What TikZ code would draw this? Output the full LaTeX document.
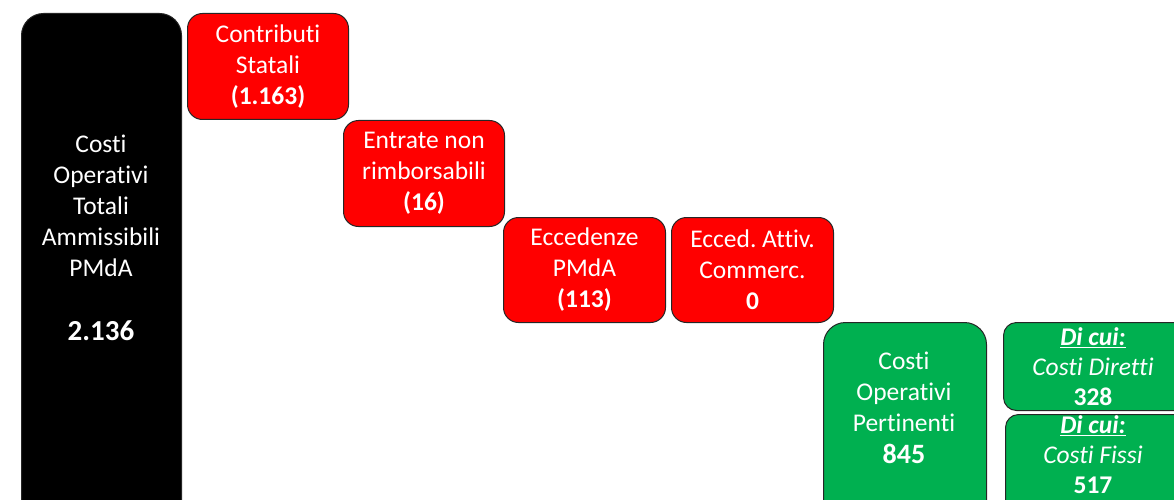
\documentclass[tikz,border=0pt]{standalone}
\usepackage{fontspec}
\setmainfont[RawFeature=-liga]{Carlito}
\frenchspacing
\definecolor{boxred}{HTML}{FF0000}
\definecolor{boxgreen}{HTML}{00B050}
\definecolor{edge}{HTML}{262626}
\tikzset{
  basebox/.style={draw=edge, line width=1pt, inner sep=0pt, anchor=north west},
  blackbox/.style={basebox, fill=black, rounded corners=22pt},
  redbox/.style={basebox, fill=boxred, rounded corners=15pt, text=white, align=center,
    font=\fontsize{25.5}{31}\selectfont},
  greenbox/.style={basebox, fill=boxgreen, rounded corners=#1},
  txt/.style={text=white, align=center, inner sep=0pt, font=\fontsize{25.5}{31}\selectfont},
}
\begin{document}
\begin{tikzpicture}[x=1pt,y=-1pt]
\useasboundingbox (0,0) rectangle (1174,500);
\clip (0,0) rectangle (1174,500);
% black column
\node[blackbox, minimum width=160pt, minimum height=530pt] (tot) at (21,13) {};
\node[txt] (totl) at (101,206) {Costi\\Operativi\\Totali\\Ammissibili\\PMdA};
\node[txt, font=\fontsize{29}{31}\selectfont\bfseries] (totv) at (101,331) {2.136};
% red boxes
\node[redbox, minimum width=161pt, minimum height=106pt] (cs) at (187,13)
  {Contributi\\Statali\\\textbf{(1.163)}};
\node[redbox, minimum width=161pt, minimum height=106pt] (enr) at (343,120)
  {Entrate non\\rimborsabili\\\textbf{(16)}};
\node[redbox, minimum width=162pt, minimum height=105pt] (ecc) at (503,217)
  {Eccedenze\\PMdA\\\textbf{(113)}};
\node[redbox, minimum width=162pt, minimum height=105pt] (eac) at (671,217)
  {Ecced. Attiv.\\Commerc.\\\textbf{0}};
% green boxes
\node[greenbox=22pt, minimum width=163pt, minimum height=220pt] (cop) at (823,322) {};
\node[txt] (copl) at (904,392) {Costi\\Operativi\\Pertinenti};
\node[txt, font=\fontsize{28}{31}\selectfont\bfseries] (copv) at (904,454) {845};
\node[greenbox=13pt, minimum width=200pt, minimum height=88pt] (cd) at (1003,322) {};
\node[txt, font=\fontsize{25.5}{30}\selectfont] (cdt) at (1093,367)
  {\textbf{\textit{\underline{Di cui:}}}\\\textit{Costi Diretti}\\\textbf{328}};
\node[greenbox=13pt, minimum width=200pt, minimum height=120pt] (cf) at (1005,414) {};
\node[txt, font=\fontsize{25.5}{30}\selectfont] (cft) at (1093,455)
  {\textbf{\textit{\underline{Di cui:}}}\\\textit{Costi Fissi}\\\textbf{517}};
\end{tikzpicture}
\end{document}
